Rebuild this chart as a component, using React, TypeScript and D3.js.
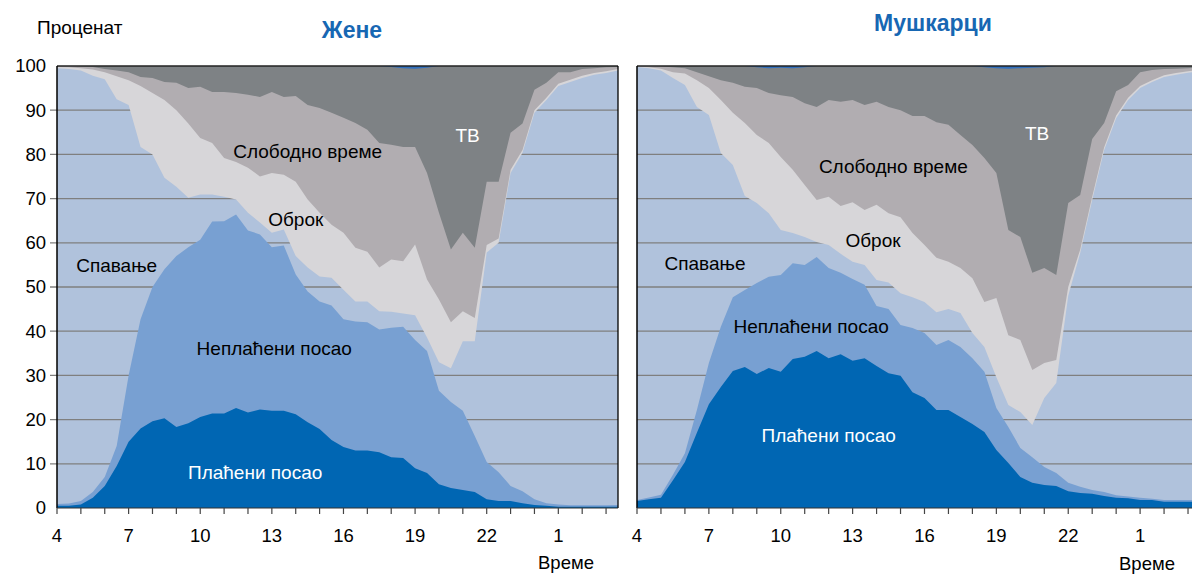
import * as d3 from "d3";
import { useEffect, useRef } from "react";

// half-hour slots, 4:00 to 3:30 next morning (hours past midnight of day 1)
const hours = [4, 4.5, 5, 5.5, 6, 6.5, 7, 7.5, 8, 8.5, 9, 9.5, 10, 10.5, 11, 11.5, 12, 12.5, 13, 13.5,
  14, 14.5, 15, 15.5, 16, 16.5, 17, 17.5, 18, 18.5, 19, 19.5, 20, 20.5, 21, 21.5, 22, 22.5, 23, 23.5,
  24, 24.5, 25, 25.5, 26, 26.5, 27, 27.5];

const tickHours = [4, 5, 6, 7, 8, 9, 10, 11, 12, 13, 14, 15, 16, 17, 18, 19, 20, 21, 22, 23, 24, 25, 26, 27];
const labelHours = [4, 7, 10, 13, 16, 19, 22, 25];
const labelTexts = ["4", "7", "10", "13", "16", "19", "22", "1"];
const yTicks = [0, 10, 20, 30, 40, 50, 60, 70, 80, 90, 100];

// Жене (percent of women doing each activity)
const womenPaid = [0.5, 0.5, 0.8, 2.3, 5.0, 9.5, 15.0, 18.0, 19.6, 20.3, 18.3, 19.2, 20.6, 21.4, 21.4, 22.6, 21.6, 22.3, 22.0, 22.0,
  21.2, 19.4, 17.9, 15.4, 13.8, 13.0, 13.0, 12.6, 11.5, 11.3, 9.0, 7.9, 5.4, 4.5, 4.1, 3.6, 2.0, 1.6, 1.6, 1.1,
  0.7, 0.5, 0.3, 0.3, 0.3, 0.3, 0.3, 0.3];
const womenUnpaid = [0.4, 0.5, 0.8, 1.3, 2.0, 4.5, 15.0, 24.7, 30.4, 33.7, 38.7, 39.8, 40.1, 43.4, 43.5, 43.8, 41.2, 39.6, 37.0, 37.4,
  31.6, 29.6, 28.8, 30.4, 28.9, 29.2, 29.0, 27.8, 29.3, 29.7, 29.0, 27.6, 21.1, 19.5, 17.9, 12.7, 8.4, 6.5, 3.4, 2.7,
  1.3, 0.6, 0.5, 0.3, 0.3, 0.3, 0.3, 0.4];
const womenSleep = [98.6, 98.3, 97.4, 94.2, 90.0, 78.5, 61.2, 39.0, 30.0, 20.7, 15.7, 11.2, 10.2, 6.1, 5.5, 3.4, 4.0, 2.7, 3.3, 3.6,
  4.2, 5.4, 5.7, 6.3, 6.7, 4.5, 4.7, 4.1, 3.6, 3.0, 5.6, 3.1, 6.5, 7.6, 15.7, 21.4, 47.4, 51.9, 70.8, 76.6,
  87.4, 91.2, 94.7, 95.8, 96.7, 97.4, 97.8, 98.3];
const womenMeal = [0.3, 0.4, 0.5, 1.4, 1.6, 5.2, 5.6, 13.8, 13.9, 17.6, 17.3, 16.8, 12.8, 11.7, 8.8, 8.5, 10.2, 10.4, 13.5, 12.4,
  16.8, 15.4, 14.4, 12.0, 12.9, 12.2, 11.3, 9.9, 11.8, 11.8, 16.0, 13.1, 14.2, 10.4, 6.8, 5.3, 1.7, 1.0, 0.7, 0.6,
  0.6, 0.5, 0.5, 0.5, 0.5, 0.4, 0.4, 0.3];
const womenFree = [0.2, 0.3, 0.4, 0.6, 0.7, 1.3, 1.8, 2.0, 3.4, 4.1, 6.2, 8.0, 11.6, 11.5, 14.9, 15.6, 16.5, 18.0, 18.3, 17.6,
  19.4, 21.4, 23.7, 25.3, 26.0, 28.2, 27.6, 28.2, 26.0, 25.9, 22.1, 24.1, 19.6, 16.5, 17.8, 15.9, 14.3, 12.8, 8.4, 6.0,
  4.6, 3.4, 2.6, 1.7, 1.5, 1.1, 0.9, 0.5];
const womenTv = [0.0, 0.0, 0.1, 0.2, 0.7, 1.0, 1.4, 2.5, 2.7, 3.6, 3.8, 5.0, 4.7, 5.9, 5.9, 6.1, 6.5, 7.0, 5.9, 7.0,
  6.8, 8.8, 9.5, 10.6, 11.7, 12.9, 14.4, 17.4, 17.6, 17.8, 17.7, 23.8, 33.2, 41.5, 37.7, 41.1, 26.2, 26.2, 15.1, 13.0,
  5.4, 3.8, 1.4, 1.4, 0.7, 0.5, 0.3, 0.2];
const womenOther = [0, 0, 0, 0, 0, 0, 0, 0, 0, 0, 0, 0, 0, 0, 0, 0, 0, 0, 0, 0,
  0, 0, 0, 0, 0, 0, 0, 0, 0.2, 0.5, 0.6, 0.4, 0, 0, 0, 0, 0, 0, 0, 0,
  0, 0, 0, 0, 0, 0, 0, 0];

// Мушкарци (percent of men doing each activity)
const menPaid = [1.6, 2.0, 2.3, 6.3, 10.4, 17.0, 23.5, 27.4, 31.0, 31.9, 30.3, 31.7, 30.8, 33.7, 34.2, 35.5, 33.9, 34.8, 33.3, 33.9,
  32.1, 30.5, 29.9, 26.2, 24.9, 22.2, 22.2, 20.6, 19.0, 17.2, 13.1, 10.2, 7.0, 5.7, 5.2, 5.0, 3.8, 3.4, 3.2, 2.7,
  2.3, 2.2, 1.8, 1.8, 1.4, 1.4, 1.4, 1.4];
const menUnpaid = [0.2, 0.4, 0.7, 1.2, 2.0, 5.2, 9.3, 13.6, 16.7, 17.4, 20.6, 20.6, 21.9, 21.7, 20.8, 21.3, 20.4, 18.4, 18.5, 16.6,
  13.6, 14.5, 11.5, 14.5, 14.7, 14.7, 15.8, 15.8, 14.9, 13.6, 9.5, 8.1, 6.6, 5.8, 4.1, 2.9, 1.9, 1.4, 0.9, 0.9,
  0.6, 0.4, 0.5, 0.3, 0.4, 0.4, 0.4, 0.4];
const menSleep = [98.0, 97.1, 96.0, 89.8, 83.3, 68.5, 56.1, 39.3, 29.9, 21.3, 18.1, 14.4, 10.2, 6.8, 6.3, 3.4, 5.2, 4.3, 3.9, 4.5,
  5.9, 6.0, 7.2, 7.0, 7.0, 7.4, 7.0, 7.7, 5.7, 5.6, 7.0, 5.0, 8.1, 7.3, 15.6, 20.4, 42.3, 52.9, 65.6, 77.4,
  85.3, 89.7, 92.7, 94.3, 95.7, 96.2, 96.7, 97.0];
const menMeal = [0.1, 0.2, 0.4, 1.3, 2.6, 6.1, 6.1, 12.0, 11.8, 16.5, 15.4, 15.9, 16.5, 14.3, 11.8, 9.5, 10.9, 10.8, 13.5, 12.4,
  17.0, 15.7, 17.2, 14.5, 12.9, 12.3, 10.7, 10.2, 12.4, 10.2, 17.9, 15.8, 16.3, 12.4, 7.9, 5.2, 2.0, 0.8, 0.7, 0.6,
  0.6, 0.5, 0.5, 0.4, 0.4, 0.4, 0.3, 0.3];
const menFree = [0.1, 0.3, 0.5, 1.1, 1.2, 1.8, 2.7, 4.5, 6.8, 8.2, 10.6, 11.3, 14.0, 16.5, 18.5, 21.0, 21.9, 23.6, 23.1, 23.8,
  23.3, 24.0, 24.2, 26.5, 29.2, 30.7, 31.0, 30.1, 30.1, 32.6, 28.3, 23.8, 23.3, 22.0, 21.5, 19.2, 19.0, 12.3, 13.1, 5.5,
  5.5, 2.9, 3.1, 2.3, 1.4, 1.0, 0.7, 0.5];
const menTv = [0.0, 0.0, 0.1, 0.3, 0.5, 1.4, 2.3, 3.2, 3.8, 4.7, 4.7, 5.6, 6.2, 6.5, 8.1, 9.3, 7.7, 8.1, 7.7, 8.8,
  8.1, 9.3, 10.0, 11.3, 11.3, 12.7, 13.3, 15.6, 17.9, 20.5, 23.7, 36.5, 38.2, 46.4, 45.4, 47.3, 31.0, 29.2, 16.5, 12.9,
  5.7, 4.3, 1.4, 0.9, 0.7, 0.6, 0.5, 0.4];
const menOther = [0, 0, 0, 0, 0, 0, 0, 0, 0, 0, 0.3, 0.5, 0.4, 0.5, 0.3, 0, 0, 0, 0, 0,
  0, 0, 0, 0, 0, 0, 0, 0, 0, 0.3, 0.5, 0.6, 0.5, 0.4, 0.3, 0, 0, 0, 0, 0,
  0, 0, 0, 0, 0, 0, 0, 0];

const keys = ["paid", "unpaid", "sleep", "meal", "free", "tv", "other"];
const colors = {
  paid: "#0066b3",
  unpaid: "#78a0d2",
  sleep: "#b0c2dc",
  meal: "#d7d6d9",
  free: "#b1adb1",
  tv: "#7e8285",
  other: "#2f6fbf",
};

const font = "'Liberation Sans', Arial, sans-serif";

const panels = [
  {
    title: "Жене", titleX: 352, titleY: 38,
    left: 57, right: 618, yLabels: true,
    axisTitleX: 566, axisTitleY: 569,
    data: { paid: womenPaid, unpaid: womenUnpaid, sleep: womenSleep, meal: womenMeal, free: womenFree, tv: womenTv, other: womenOther },
    labels: [
      { text: "ТВ", hour: 21.2, value: 84.4, fill: "#fff" },
      { text: "Слободно време", hour: 14.5, value: 80.8, fill: "#000" },
      { text: "Оброк", hour: 14.0, value: 65.2, fill: "#000" },
      { text: "Спавање", hour: 6.5, value: 55.0, fill: "#000" },
      { text: "Неплаћени посао", hour: 13.1, value: 36.2, fill: "#000" },
      { text: "Плаћени посао", hour: 12.3, value: 8.1, fill: "#fff" },
    ],
  },
  {
    title: "Мушкарци", titleX: 933, titleY: 31,
    left: 637, right: 1200, yLabels: false,
    axisTitleX: 1147, axisTitleY: 570,
    data: { paid: menPaid, unpaid: menUnpaid, sleep: menSleep, meal: menMeal, free: menFree, tv: menTv, other: menOther },
    labels: [
      { text: "ТВ", hour: 20.7, value: 84.8, fill: "#fff" },
      { text: "Слободно време", hour: 14.7, value: 77.4, fill: "#000" },
      { text: "Оброк", hour: 13.85, value: 60.6, fill: "#000" },
      { text: "Спавање", hour: 6.84, value: 55.4, fill: "#000" },
      { text: "Неплаћени посао", hour: 11.27, value: 41.2, fill: "#000" },
      { text: "Плаћени посао", hour: 12.0, value: 16.5, fill: "#fff" },
    ],
  },
];

function drawPanel(svg, p) {
  const top = 66, bottom = 508;
  const x = d3.scaleLinear().domain([hours[0], hours[hours.length - 1]]).range([p.left, p.right]);
  const y = d3.scaleLinear().domain([0, 100]).range([bottom, top]);

  const rows = hours.map((h, i) => {
    const r = { hour: h };
    keys.forEach(k => { r[k] = p.data[k][i]; });
    return r;
  });
  const series = d3.stack().keys(keys)(rows);
  const byKey = {};
  series.forEach(s => { byKey[s.key] = s; });
  const total = series[series.length - 1];

  const g = svg.append("g");

  // sleep is the background, grid lines only show through it
  g.append("rect").attr("x", p.left).attr("y", top)
    .attr("width", p.right - p.left).attr("height", bottom - top)
    .attr("fill", colors.sleep);

  g.selectAll(".grid").data(yTicks.slice(1, -1)).join("line")
    .attr("x1", p.yLabels ? p.left - 7 : p.left).attr("x2", p.right)
    .attr("y1", d => y(d)).attr("y2", d => y(d))
    .attr("stroke", "#7f7f7f").attr("stroke-width", 1.3);

  // bottom layers grow from 0, top layers hang down from 100 (no seams between them)
  ["unpaid", "paid"].forEach(k => {
    const area = d3.area().x(d => x(d.data.hour)).y0(y(0)).y1(d => y(d[1]));
    g.append("path").datum(byKey[k]).attr("d", area).attr("fill", colors[k]);
  });
  ["meal", "free", "tv", "other"].forEach(k => {
    const area = d3.area().x(d => x(d.data.hour))
      .y0(d => y(d[0]))
      .y1((d, i) => y(total[i][1]));
    g.append("path").datum(byKey[k]).attr("d", area).attr("fill", colors[k]);
  });

  // frame
  g.append("line").attr("x1", p.left).attr("x2", p.right).attr("y1", top).attr("y2", top)
    .attr("stroke", "#222").attr("stroke-width", 1.3);
  g.append("line").attr("x1", p.left).attr("x2", p.left).attr("y1", top).attr("y2", bottom)
    .attr("stroke", "#000").attr("stroke-width", 1.5);
  g.append("line").attr("x1", p.right).attr("x2", p.right).attr("y1", top).attr("y2", bottom)
    .attr("stroke", "#000").attr("stroke-width", 1.3);
  g.append("line").attr("x1", p.left).attr("x2", p.right).attr("y1", bottom).attr("y2", bottom)
    .attr("stroke", "#333").attr("stroke-width", 1.2);

  g.selectAll(".xt").data(tickHours).join("line")
    .attr("x1", d => x(d)).attr("x2", d => x(d))
    .attr("y1", bottom).attr("y2", bottom + 6)
    .attr("stroke", "#444").attr("stroke-width", 1.2);

  g.selectAll(".xl").data(labelHours).join("text")
    .attr("x", d => x(d)).attr("y", bottom + 34)
    .attr("text-anchor", "middle")
    .attr("font-family", font).attr("font-size", 18.5)
    .text((d, i) => labelTexts[i]);

  if (p.yLabels) {
    g.selectAll(".yl").data(yTicks).join("text")
      .attr("x", p.left - 11).attr("y", d => y(d)).attr("dy", "0.35em")
      .attr("text-anchor", "end")
      .attr("font-family", font).attr("font-size", 18.5)
      .text(d => d);
    svg.append("text").attr("x", 37).attr("y", 34)
      .attr("font-family", font).attr("font-size", 19)
      .text("Проценат");
  }

  g.selectAll(".lab").data(p.labels).join("text")
    .attr("x", d => x(d.hour)).attr("y", d => y(d.value)).attr("dy", "0.35em")
    .attr("text-anchor", "middle")
    .attr("font-family", font).attr("font-size", 19)
    .attr("fill", d => d.fill)
    .text(d => d.text);

  svg.append("text").attr("x", p.titleX).attr("y", p.titleY)
    .attr("text-anchor", "middle")
    .attr("font-family", font).attr("font-size", 23).attr("font-weight", "bold")
    .attr("fill", "#1767b3")
    .text(p.title);

  svg.append("text").attr("x", p.axisTitleX).attr("y", p.axisTitleY)
    .attr("text-anchor", "middle")
    .attr("font-family", font).attr("font-size", 18.5)
    .text("Време");
}

export default function App() {
  const ref = useRef(null);

  useEffect(() => {
    const svg = d3.select(ref.current);
    svg.selectAll("*").remove();
    panels.forEach(p => drawPanel(svg, p));
  }, []);

  return (
    <svg ref={ref} width={1192} height={574}
      style={{ position: "absolute", left: 0, top: 0, background: "#fff" }} />
  );
}
